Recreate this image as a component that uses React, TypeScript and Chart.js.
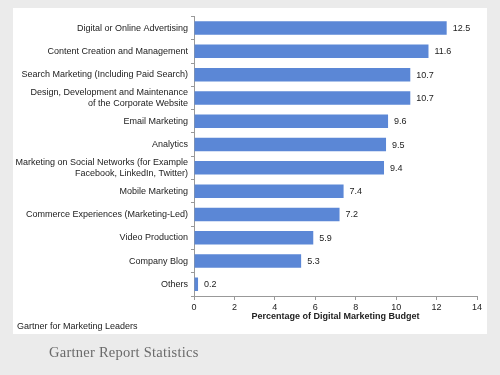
import React, { useEffect, useRef } from "react";
import { Chart, registerables } from "chart.js";

Chart.register(...registerables);

const categories: (string | string[])[] = [
  "Digital or Online Advertising",
  "Content Creation and Management",
  "Search Marketing (Including Paid Search)",
  ["Design, Development and Maintenance", "of the Corporate Website"],
  "Email Marketing",
  "Analytics",
  ["Marketing on Social Networks (for Example", "Facebook, LinkedIn, Twitter)"],
  "Mobile Marketing",
  "Commerce Experiences (Marketing-Led)",
  "Video Production",
  "Company Blog",
  "Others",
];

const budgetShare: number[] = [12.5, 11.6, 10.7, 10.7, 9.6, 9.5, 9.4, 7.4, 7.2, 5.9, 5.3, 0.2];

const xMin = 0;
const xMax = 14;
const xStep = 2;

const axisTitle = "Percentage of Digital Marketing Budget";
const footnote = "Gartner for Marketing Leaders";
const caption = "Gartner Report Statistics";

const FONT = "'Liberation Sans', Arial, sans-serif";

const valueLabels = {
  id: "valueLabels",
  afterDatasetsDraw(chart: any) {
    const ctx = chart.ctx;
    const meta = chart.getDatasetMeta(0);
    ctx.save();
    ctx.font = `9px ${FONT}`;
    ctx.fillStyle = "#222";
    ctx.textAlign = "left";
    ctx.textBaseline = "middle";
    meta.data.forEach((bar: any, i: number) => {
      const v = chart.data.datasets[0].data[i];
      ctx.fillText(v.toFixed(1), bar.x + 6, bar.y + 0.5);
    });
    ctx.restore();
  },
};

export default function App() {
  const ref = useRef<HTMLCanvasElement>(null);

  useEffect(() => {
    if (!ref.current) return;
    const chart = new Chart(ref.current, {
      type: "bar",
      data: {
        labels: categories,
        datasets: [
          {
            data: budgetShare,
            backgroundColor: "#5b87d6",
            borderWidth: 0,
            categoryPercentage: 1,
            barPercentage: 0.58,
          },
        ],
      },
      options: {
        indexAxis: "y",
        responsive: false,
        animation: false,
        layout: { padding: { left: 0, right: 10, top: 5, bottom: 8 } },
        plugins: {
          legend: { display: false },
          tooltip: { enabled: false },
        },
        scales: {
          x: {
            min: xMin,
            max: xMax,
            ticks: { stepSize: xStep, font: { size: 9, family: FONT }, color: "#222", padding: 2 },
            grid: {
              display: true,
              drawOnChartArea: false,
              drawTicks: true,
              tickLength: 4,
              color: "#999",
            },
            border: { display: true, color: "#999" },
            title: {
              display: true,
              text: axisTitle,
              font: { size: 9, weight: "bold", family: FONT },
              color: "#222",
              padding: { top: 0, bottom: 4 },
            },
            afterFit: (s: any) => {
              s.height = 30;
            },
          },
          y: {
            ticks: { font: { size: 9, family: FONT }, color: "#222", padding: 3, autoSkip: false },
            grid: {
              display: true,
              drawOnChartArea: false,
              drawTicks: true,
              tickLength: 3,
              color: "#999",
              offset: true,
            },
            border: { display: true, color: "#999" },
            afterFit: (s: any) => {
              s.width = 181;
            },
          },
        },
      },
      plugins: [valueLabels],
    });
    return () => chart.destroy();
  }, []);

  return (
    <div
      style={{
        position: "fixed",
        left: 0,
        top: 0,
        width: 500,
        height: 375,
        background: "#ebebeb",
        overflow: "hidden",
      }}
    >
      <div
        style={{
          position: "absolute",
          left: 13,
          top: 8,
          width: 474,
          height: 326,
          background: "#ffffff",
        }}
      >
        <canvas ref={ref} width={474} height={326} style={{ display: "block" }} />
        <div
          style={{
            position: "absolute",
            left: 4,
            top: 313,
            font: `9px ${FONT}`,
            color: "#222",
            whiteSpace: "nowrap",
          }}
        >
          {footnote}
        </div>
      </div>
      <div
        style={{
          position: "absolute",
          left: 49,
          top: 344,
          font: "14.5px 'Liberation Serif', 'Times New Roman', serif",
          color: "#6a6a6a",
          whiteSpace: "nowrap",
          letterSpacing: "0.25px",
        }}
      >
        {caption}
      </div>
    </div>
  );
}
